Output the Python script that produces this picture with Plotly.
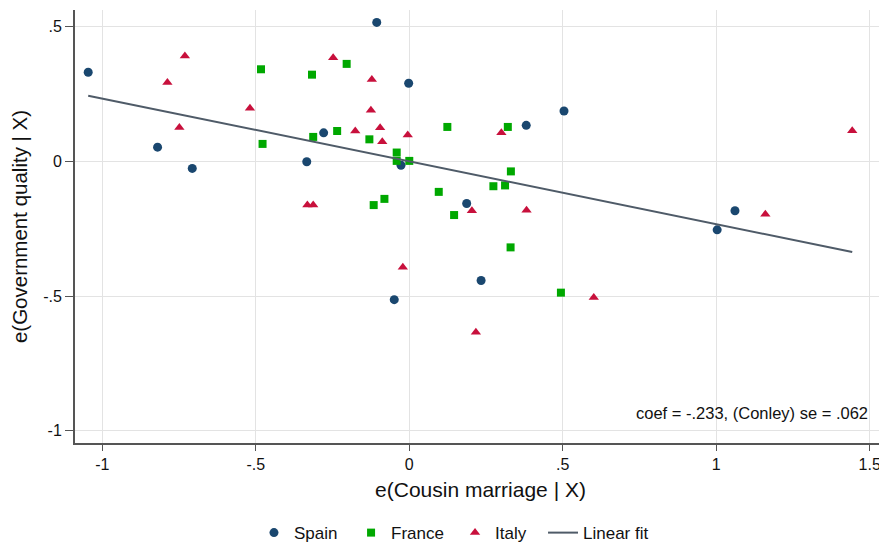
import plotly.graph_objects as go

# ---- data ----
spain_x = [-1.046, -0.820, -0.707, -0.334, -0.279, -0.106, -0.002, -0.027, -0.049,
           0.187, 0.234, 0.381, 0.504, 1.003, 1.061]
spain_y = [0.331, 0.053, -0.026, -0.001, 0.106, 0.516, 0.290, -0.014, -0.513,
           -0.156, -0.442, 0.134, 0.187, -0.254, -0.183]

france_x = [-0.483, -0.478, -0.317, -0.204, -0.313, -0.235, -0.130, -0.041, -0.041,
            0.000, 0.124, 0.096, 0.274, 0.312, 0.321, 0.331, -0.116, -0.081, 0.146,
            0.330, 0.494]
france_y = [0.342, 0.065, 0.322, 0.362, 0.091, 0.113, 0.082, 0.033, 0.002,
            0.002, 0.128, -0.113, -0.092, -0.089, 0.128, -0.037, -0.162, -0.139, -0.199,
            -0.319, -0.487]

italy_x = [-0.731, -0.788, -0.519, -0.749, -0.248, -0.122, -0.125, -0.176, -0.095,
           -0.088, -0.005, 0.300, 1.443, -0.332, -0.313, 0.204, 0.382, 1.160, -0.021,
           0.601, 0.217]
italy_y = [0.391, 0.293, 0.197, 0.126, 0.385, 0.304, 0.190, 0.113, 0.125,
           0.073, 0.098, 0.106, 0.114, -0.162, -0.162, -0.183, -0.181, -0.196, -0.393,
           -0.505, -0.634]

fit_x = [-1.046, 1.443]
fit_y = [0.244, -0.336]

x_tick_vals = [-1, -0.5, 0, 0.5, 1, 1.5]
x_tick_text = ["-1", "-.5", "0", ".5", "1", "1.5"]
y_tick_vals = [-1, -0.5, 0, 0.5]
y_tick_text = ["-1", "-.5", "0", ".5"]

annotation_text = "coef = -.233, (Conley) se = .062"

# ---- styles ----
FONT = "Liberation Sans, Arial, Helvetica, sans-serif"
C_SPAIN = "#1a476f"
C_FRANCE = "#00a800"
C_ITALY = "#c8103c"
C_FIT = "#4f5b68"
AXIS_C = "#555555"
GRID_C = "#e3e3e3"
TXT = "#111111"

fig = go.Figure()
fig.add_trace(go.Scatter(x=spain_x, y=spain_y, mode="markers", name="Spain", legend="legend",
                         marker=dict(symbol="circle", size=9, color=C_SPAIN, line=dict(width=0))))
fig.add_trace(go.Scatter(x=france_x, y=france_y, mode="markers", name="France", legend="legend2",
                         marker=dict(symbol="square", size=8, color=C_FRANCE, line=dict(width=0))))
fig.add_trace(go.Scatter(x=italy_x, y=italy_y, mode="markers", name="Italy", legend="legend3",
                         marker=dict(symbol="triangle-up", size=9, color=C_ITALY, line=dict(width=0))))
fig.add_trace(go.Scatter(x=fit_x, y=fit_y, mode="lines", name="Linear fit", legend="legend4",
                         line=dict(color=C_FIT, width=2)))

fig.add_annotation(x=1.5, y=-0.935, xref="x", yref="y", text=annotation_text,
                   showarrow=False, xanchor="right", yanchor="middle",
                   font=dict(family=FONT, size=16.5, color=TXT))


def legend_box(xpos):
    return dict(orientation="h", x=xpos, xanchor="left", y=-0.208, yanchor="middle",
                font=dict(family=FONT, size=17, color=TXT), bgcolor="rgba(0,0,0,0)")


# the page adds an 8px body margin, so the figure is sized to fit the window
fig.update_layout(
    width=879, height=535,
    margin=dict(l=67, r=1, t=2, b=100, autoexpand=False),
    paper_bgcolor="white", plot_bgcolor="white",
    font=dict(family=FONT, size=16, color=TXT),
    showlegend=True,
    legend=legend_box(0.2207),
    legend2=legend_box(0.3404),
    legend3=legend_box(0.4686),
    legend4=legend_box(0.5771),
    xaxis=dict(range=[-1.089, 1.553], tickvals=x_tick_vals, ticktext=x_tick_text,
               showgrid=True, gridcolor=GRID_C, gridwidth=1, zeroline=False,
               showline=True, linecolor=AXIS_C, linewidth=2, ticks="outside",
               ticklen=6, tickcolor=AXIS_C, tickwidth=1,
               tickfont=dict(family=FONT, size=16, color=TXT),
               title=dict(text="e(Cousin marriage | X)", standoff=10,
                          font=dict(family=FONT, size=21, color=TXT))),
    yaxis=dict(range=[-1.045, 0.562], tickvals=y_tick_vals, ticktext=y_tick_text,
               showgrid=True, gridcolor=GRID_C, gridwidth=1, zeroline=False,
               showline=True, linecolor=AXIS_C, linewidth=2, ticks="outside",
               ticklen=8, tickcolor=AXIS_C, tickwidth=1,
               tickfont=dict(family=FONT, size=16, color=TXT),
               title=dict(text="e(Government quality | X)", standoff=22,
                          font=dict(family=FONT, size=20.5, color=TXT))),
)

fig.write_html("out.html")
